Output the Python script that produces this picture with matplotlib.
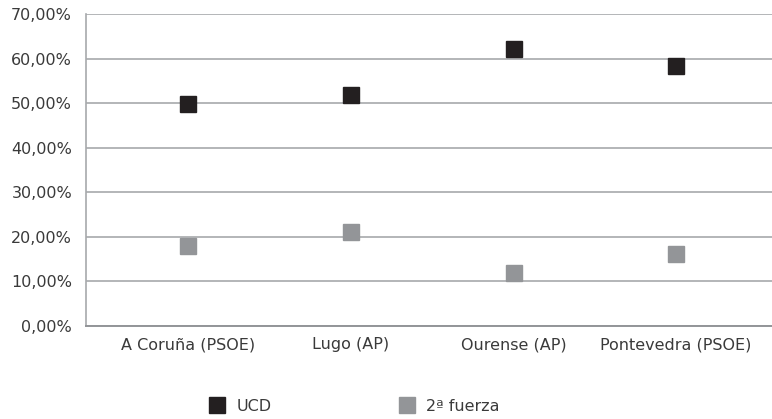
import matplotlib.pyplot as plt
from matplotlib.ticker import FuncFormatter

provincias = ["A Coruña (PSOE)", "Lugo (AP)", "Ourense (AP)", "Pontevedra (PSOE)"]
ucd = [49.7, 51.8, 62.1, 58.3]
segunda_fuerza = [17.9, 21.2, 11.8, 16.1]

plt.rcParams['font.family'] = 'DejaVu Sans'
plt.rcParams['font.size'] = 11.5

fig = plt.figure(figsize=(7.72, 4.19), dpi=100)
ax = fig.add_axes([86/772, 1-326/419, 1-86/772, (326-14)/419])

ax.plot(provincias, ucd, linestyle='none', marker='s', markersize=12.2,
        color='#231f20', label='UCD', zorder=3)
ax.plot(provincias, segunda_fuerza, linestyle='none', marker='s', markersize=12.2,
        color='#939598', label='2ª fuerza', zorder=3)

ax.set_ylim(0, 70)
ax.set_yticks(range(0, 71, 10))
ax.yaxis.set_major_formatter(FuncFormatter(lambda v, p: f"{v:.2f}%".replace('.', ',')))
ax.set_xlim(-0.63, 3.59)

ax.grid(axis='y', color='#a7a9ac', linewidth=1.2)
ax.set_axisbelow(True)
for s in ['top', 'right']:
    ax.spines[s].set_visible(False)
ax.spines['left'].set_color('#a7a9ac')
ax.spines['left'].set_linewidth(1.2)
ax.spines['bottom'].set_color('#939598')
ax.spines['bottom'].set_linewidth(1.4)
ax.tick_params(length=0, colors='#3a3a3a', labelsize=11.5)
ax.tick_params(axis='y', pad=10)
ax.tick_params(axis='x', pad=8)

fig.legend(loc='center left', bbox_to_anchor=(209/772, 1-406/419), ncol=2,
           frameon=False, borderpad=0, borderaxespad=0, handlelength=1.0,
           handletextpad=0.7, columnspacing=8.0, markerscale=0.9,
           labelcolor='#3a3a3a')

fig.savefig('out.png', dpi=100)
